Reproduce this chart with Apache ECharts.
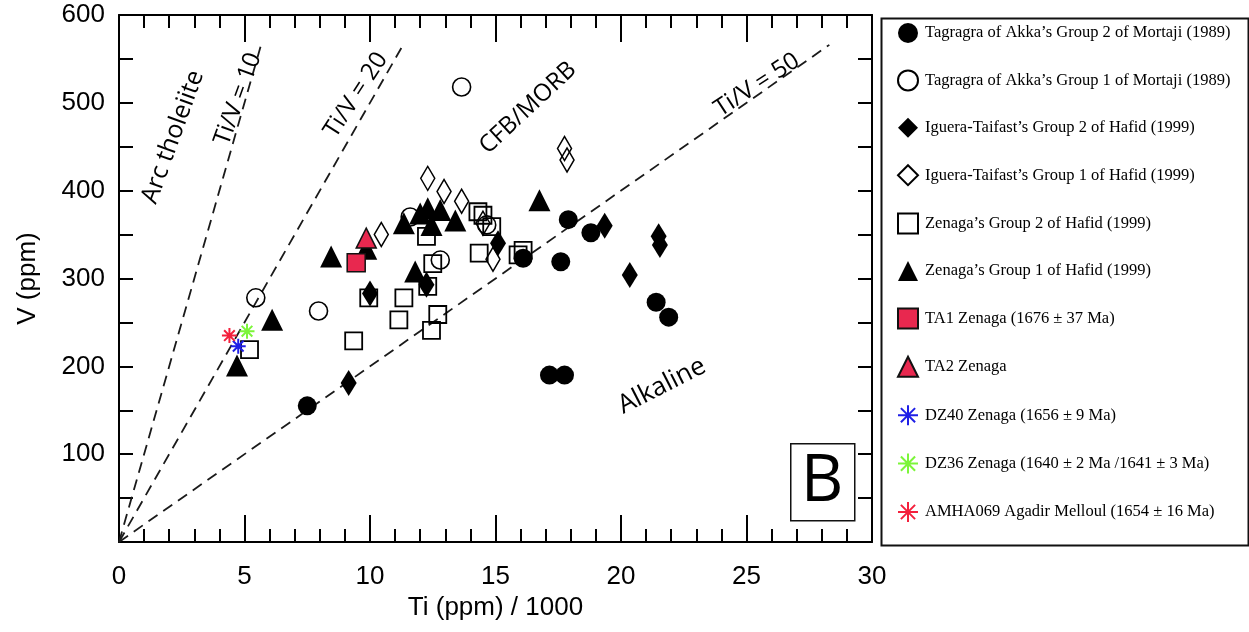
<!DOCTYPE html>
<html><head><meta charset="utf-8">
<script src="https://cdn.jsdelivr.net/npm/echarts@6/dist/echarts.min.js"></script>
<style>html,body{margin:0;padding:0;background:#fff}#c{width:1249px;height:632px}</style>
</head><body><div id="c"></div>
<script>
// ---- data (Ti ppm/1000, V ppm) ----
const tagragraG2 = [[7.5,155],[16.1,323],[17.6,319],[17.9,367],[18.8,352],[17.15,190],[17.75,190],[21.4,273],[21.9,256]];
const tagragraG1 = [[13.65,518],[5.45,278],[7.95,263],[11.6,370],[12.8,321],[14.65,361]];
const igueraG2 = [[9.15,181],[10.0,283],[12.25,293],[15.1,340],[19.35,360],[20.35,304],[21.5,348],[21.55,338]];
const igueraG1 = [[10.45,350],[12.3,414],[12.95,399],[13.65,388],[14.5,363],[14.9,322],[17.75,448],[17.85,435]];
const zenagaG2 = [[5.2,219],[9.35,229],[9.95,278],[11.35,278],[11.15,253],[12.25,348],[12.3,291],[12.5,317],[12.7,259],[12.45,241],[14.3,376],[14.5,372],[14.85,359],[14.35,329],[15.9,327],[16.1,332]];
const zenagaG1 = [[4.7,201],[6.1,253],[8.45,325],[9.85,334],[11.35,363],[12.0,374],[12.3,380],[12.8,378],[12.45,361],[13.4,366],[11.8,308],[16.75,389]];
const ta1 = [[9.45,318]];
const ta2 = [[9.85,346]];
const dz40 = [[4.75,223]];
const dz36 = [[5.1,240]];
const amha069 = [[4.4,235]];
const tiVRatios = [10, 20, 50];
const lineTopV = 566;
const xTicks = [0, 5, 10, 15, 20, 25, 30];
const yTicks = [0, 100, 200, 300, 400, 500, 600];

const names = [
  "Tagragra of Akka\u2019s Group 2 of Mortaji (1989)",
  "Tagragra of Akka\u2019s Group 1 of Mortaji (1989)",
  "Iguera-Taifast\u2019s Group 2 of Hafid (1999)",
  "Iguera-Taifast\u2019s Group 1 of Hafid (1999)",
  "Zenaga\u2019s Group 2 of Hafid (1999)",
  "Zenaga\u2019s Group 1 of Hafid (1999)",
  "TA1 Zenaga (1676 \u00b1 37 Ma)",
  "TA2 Zenaga",
  "DZ40 Zenaga (1656 \u00b1 9 Ma)",
  "DZ36 Zenaga (1640 \u00b1 2 Ma /1641 \u00b1 3 Ma)",
  "AMHA069 Agadir Melloul (1654 \u00b1 16 Ma)"
];

const star = 'path://M10 0L10 20M0 10L20 10M2.9 2.9L17.1 17.1M2.9 17.1L17.1 2.9';
const RED = '#e8284f';
const OPEN = 'rgba(255,255,255,0)';

function sc(name, data, symbol, size, style, z) {
  return { type: 'scatter', name, data, symbol, symbolSize: size,
           itemStyle: Object.assign({ opacity: 1 }, style), z: z || 3,
           emphasis: { disabled: true } };
}

const lineSeries = tiVRatios.map(r => ({
  type: 'line', name: 'Ti/V=' + r, data: [[0, 0], [lineTopV * r / 1000, lineTopV]],
  symbol: 'none', silent: true, z: 1,
  lineStyle: { color: '#1a1a1a', width: 1.8, type: [11, 7] }
}));

const series = [
  ...lineSeries,
  sc(names[0], tagragraG2, 'circle', 19, { color: '#000' }),
  sc(names[1], tagragraG1, 'circle', 18, { color: OPEN, borderColor: '#000', borderWidth: 1.6 }),
  sc(names[2], igueraG2, 'diamond', [16, 26], { color: '#000' }),
  sc(names[3], igueraG1, 'diamond', [14, 24], { color: OPEN, borderColor: '#000', borderWidth: 1.6 }),
  sc(names[4], zenagaG2, 'rect', 17, { color: OPEN, borderColor: '#000', borderWidth: 1.8 }),
  sc(names[5], zenagaG1, 'triangle', 22, { color: '#000' }),
  sc(names[6], ta1, 'rect', 18, { color: RED, borderColor: '#111', borderWidth: 1.5 }, 5),
  sc(names[7], ta2, 'triangle', 20, { color: RED, borderColor: '#111', borderWidth: 1.5 }, 5),
  sc(names[8], dz40, star, 15, { color: '#1f1fe6', borderColor: '#1f1fe6', borderWidth: 2 }, 6),
  sc(names[9], dz36, star, 15, { color: '#7cf53a', borderColor: '#7cf53a', borderWidth: 2 }, 6),
  sc(names[10], amha069, star, 15, { color: '#f4203c', borderColor: '#f4203c', borderWidth: 2 }, 6)
];

const axisCommon = {
  type: 'value', splitLine: { show: false },
  axisLine: { show: true, onZero: false, lineStyle: { color: '#000', width: 2 } },
};

const chart = echarts.init(document.getElementById('c'), null, { renderer: 'canvas' });
chart.setOption({
  animation: false,
  backgroundColor: '#fff',
  grid: { left: 119, top: 15, width: 753, height: 527 },
  xAxis: [
    Object.assign({}, axisCommon, {
      min: xTicks[0], max: xTicks[xTicks.length - 1], interval: 5, position: 'bottom',
      name: 'Ti (ppm) / 1000', nameLocation: 'middle', nameGap: 50,
      nameTextStyle: { fontFamily: 'Liberation Sans', fontSize: 26, color: '#000' },
      axisTick: { inside: true, length: 27, lineStyle: { color: '#000', width: 2 } },
      minorTick: { show: true, splitNumber: 5, length: 13, lineStyle: { color: '#000', width: 2 } },
      axisLabel: { fontFamily: 'Liberation Sans', fontSize: 26, color: '#000', margin: 22 }
    }),
    Object.assign({}, axisCommon, {
      min: xTicks[0], max: xTicks[xTicks.length - 1], interval: 5, position: 'top',
      axisTick: { inside: true, length: 27, lineStyle: { color: '#000', width: 2 } },
      minorTick: { show: true, splitNumber: 5, length: 13, lineStyle: { color: '#000', width: 2 } },
      axisLabel: { show: false }
    })
  ],
  yAxis: [
    Object.assign({}, axisCommon, {
      min: yTicks[0], max: yTicks[yTicks.length - 1], interval: 100, position: 'left',
      name: 'V (ppm)', nameLocation: 'middle', nameGap: 78,
      nameTextStyle: { fontFamily: 'Liberation Sans', fontSize: 26, color: '#000' },
      axisTick: { inside: true, length: 14, lineStyle: { color: '#000', width: 2 } },
      minorTick: { show: true, splitNumber: 2, length: 14, lineStyle: { color: '#000', width: 2 } },
      axisLabel: { fontFamily: 'Liberation Sans', fontSize: 26, color: '#000', margin: 14,
                   formatter: v => (v === 0 ? '' : String(v)) }
    }),
    Object.assign({}, axisCommon, {
      min: yTicks[0], max: yTicks[yTicks.length - 1], interval: 100, position: 'right',
      axisTick: { inside: true, length: 14, lineStyle: { color: '#000', width: 2 } },
      minorTick: { show: true, splitNumber: 2, length: 14, lineStyle: { color: '#000', width: 2 } },
      axisLabel: { show: false }
    })
  ],
  legend: {
    data: names, orient: 'vertical', left: 897, top: 23, padding: 0,
    itemWidth: 20, itemHeight: 20, itemGap: 26.4,
    textStyle: { fontFamily: 'Liberation Serif', fontSize: 16.5, color: '#000', lineHeight: 20, padding: [0, 0, 0, 2] },
    selectedMode: false
  },
  graphic: [
    { type: 'rect', left: 879, top: 16, shape: { width: 367, height: 527 },
      style: { fill: 'none', stroke: '#111', lineWidth: 2 }, silent: true },
    { type: 'rect', left: 790, top: 443, shape: { width: 64, height: 77 },
      style: { fill: '#fff', stroke: '#111', lineWidth: 1.5 }, silent: true, z: 10 },
    { type: 'text', x: 822, y: 482, z: 11, style: { text: 'B', fontFamily: 'Open Sans', fontSize: 66,
      fill: '#000', align: 'center', verticalAlign: 'middle' } },
    ...[
      ['Arc tholeiite', 173, 137, 70, 25],
      ['Ti/V = 10', 238, 99, 70, 24],
      ['Ti/V = 20', 356, 95, 57, 24],
      ['CFB/MORB', 528, 108, 43, 24],
      ['Ti/V = 50', 757, 85, 33, 24],
      ['Alkaline', 662, 386, 27, 26]
    ].map(([t, x, y, a, fs]) => ({
      type: 'text', x, y, rotation: a * Math.PI / 180, z: 8,
      style: { text: t, fontFamily: 'Open Sans', fontSize: fs, fill: '#000', align: 'center', verticalAlign: 'middle' }
    }))
  ],
  series
});
</script>
</body></html>
